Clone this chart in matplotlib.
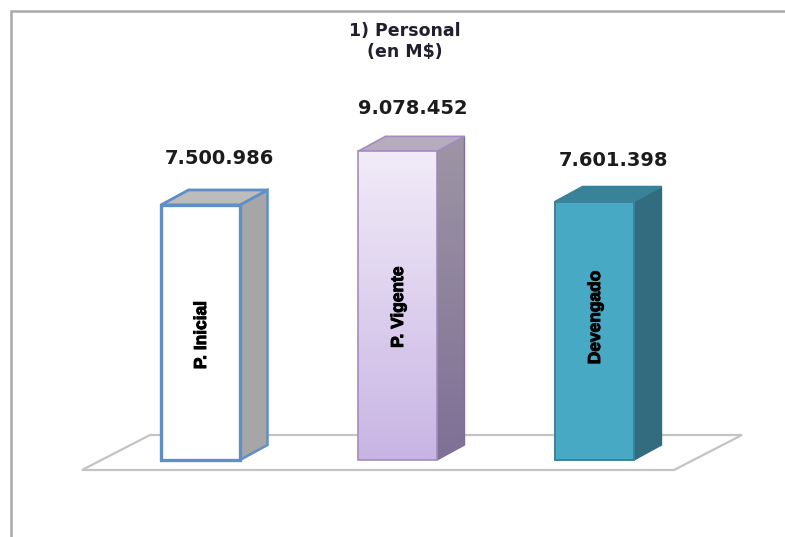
import numpy as np
import matplotlib
matplotlib.use("Agg")
import matplotlib.pyplot as plt
import matplotlib.patheffects as pe
from matplotlib.colors import LinearSegmentedColormap
from matplotlib.patches import Polygon

categories = ["P. Inicial", "P. Vigente", "Devengado"]
values = [7500986, 9078452, 7601398]
value_labels = ["7.500.986", "9.078.452", "7.601.398"]
title_lines = "1) Personal\n(en M$)"

W, H = 785, 537
PX_PER_UNIT = 34.0 / 1e6     # vertical pixels per unit of value
BASE_PX = 460.0              # pixel row of value 0
CAT0_PX, CAT_STEP = 200.5, 197.0
BAR_W_PX = 79.0
DX_PX, DY_PX = 27.5, 15.0

fig = plt.figure(figsize=(W / 100, H / 100), dpi=100, facecolor="white")
ax = fig.add_axes([0, 0, 1, 1])
ax.set_xlim(-CAT0_PX / CAT_STEP, (W - CAT0_PX) / CAT_STEP)
ax.set_ylim(-(H - BASE_PX) / PX_PER_UNIT, BASE_PX / PX_PER_UNIT)
ax.axis("off")

dx = DX_PX / CAT_STEP
dy = DY_PX / PX_PER_UNIT
bw = BAR_W_PX / CAT_STEP
ypx = 1 / PX_PER_UNIT   # data units per pixel
xpx = 1 / CAT_STEP

# outer frame (open at right and bottom, as the crop shows)
ax.plot([11 * xpx + ax.get_xlim()[0]] * 2 + [ax.get_xlim()[1]],
        [ax.get_ylim()[0], (BASE_PX - 11) * ypx, (BASE_PX - 11) * ypx],
        color="#a9a9a9", lw=1.8, zorder=1, solid_joinstyle="miter")

# floor
x0 = ax.get_xlim()[0]
floor = Polygon([(x0 + 82 * xpx, -10 * ypx), (x0 + 674 * xpx, -10 * ypx),
                 (x0 + 742 * xpx, 25 * ypx), (x0 + 150 * xpx, 25 * ypx)],
                closed=True, fc="white", ec="#c4c4c4", lw=1.6, zorder=2)
ax.add_patch(floor)

front_edges = ["#5f8fc6", "#a48cc0", "#3a8298"]
top_cols = ["#bcbcbc", "#b5adbd", "#38829a"]
side_tops = ["#a6a6a6", "#9d95a5", "#326c7e"]
side_bots = ["#a6a6a6", "#7f7096", "#326c7e"]
front_tops = ["#ffffff", "#f1ebf8", "#48a9c5"]
front_bots = ["#ffffff", "#c9b5e4", "#48a9c5"]
edge_w = [2.4, 1.2, 1.4]
side_w = [1.8, 1.0, 1.0]
label_rows = [335, 307, 317.5]

xs = np.arange(len(values))
bars = ax.bar(xs, values, width=bw, facecolor="none", edgecolor="none", zorder=3)
for i, (bar, val) in enumerate(zip(bars, values)):
    l, r = bar.get_x(), bar.get_x() + bar.get_width()
    side = Polygon([(r, 0), (r + dx, dy), (r + dx, val + dy), (r, val)], closed=True,
                   fc="none", ec=side_bots[i] if i else "#5f8fc6",
                   lw=side_w[i], zorder=4)
    ax.add_patch(side)
    grad = LinearSegmentedColormap.from_list("s", [side_tops[i], side_bots[i]])
    im = ax.imshow(np.linspace(0, 1, 64)[:, None], cmap=grad, aspect="auto",
                   extent=(r, r + dx, 0, val + dy), zorder=3, origin="upper")
    im.set_clip_path(side)
    top = Polygon([(l, val), (l + dx, val + dy), (r + dx, val + dy), (r, val)],
                  closed=True, fc=top_cols[i],
                  ec=front_edges[i], lw=side_w[i] + 0.2, zorder=4)
    ax.add_patch(top)
    grad2 = LinearSegmentedColormap.from_list("f", [front_tops[i], front_bots[i]])
    ax.imshow(np.linspace(0, 1, 64)[:, None], cmap=grad2, aspect="auto",
              extent=(l, r, 0, val), zorder=5, origin="upper")
    bar.set_edgecolor(front_edges[i])
    bar.set_linewidth(edge_w[i])
    bar.set_zorder(6)
    ax.text(i + 1 * xpx, (BASE_PX - label_rows[i]) * ypx, categories[i],
            rotation=90, ha="center", va="center", color="black", fontsize=12.5,
            family="Liberation Sans", fontweight="bold", zorder=7,
            path_effects=[pe.withStroke(linewidth=0.7, foreground="black")])

ax.set_xlim(x0, (W - CAT0_PX) / CAT_STEP)
ax.set_ylim(-(H - BASE_PX) / PX_PER_UNIT, BASE_PX / PX_PER_UNIT)

label_y = [460 - 159, 460 - 108, 460 - 161]
label_x = [219.5, 412.5, 614]
for lx, ly, t in zip(label_x, label_y, value_labels):
    ax.text(x0 + lx * xpx, ly * ypx, t, ha="center", va="center", fontsize=14,
            fontweight="bold", color="#1c1c1c", family="DejaVu Sans", zorder=8)

ax.text(x0 + 405 * xpx, (460 - 41.5) * ypx, title_lines, ha="center", va="center",
        fontsize=12.5, fontweight="bold", color="#1f1f2e", family="DejaVu Sans",
        linespacing=1.2, zorder=8)

fig.savefig("out.png", dpi=100, facecolor="white")
